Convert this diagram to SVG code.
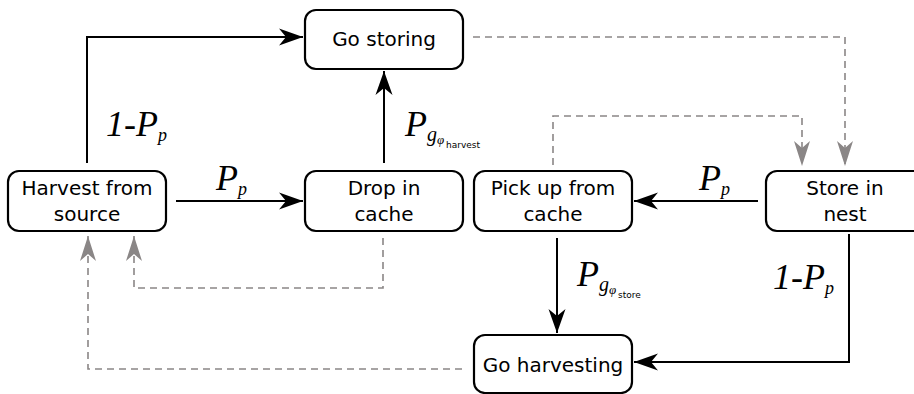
<svg xmlns="http://www.w3.org/2000/svg" width="914" height="394" viewBox="0 0 914 394">
<defs>
<style>
.box{fill:#fff;stroke:#000;stroke-width:2.2}
.lbl{font-family:"DejaVu Sans",sans-serif;font-size:20px;fill:#000;text-anchor:middle}
.solid{fill:none;stroke:#000;stroke-width:2}
.dash{fill:none;stroke:#8a8686;stroke-width:1.6;stroke-dasharray:7,5}
.m{font-family:"Liberation Serif",serif;font-style:italic;fill:#000}
.sub{font-family:"DejaVu Sans",sans-serif;font-size:9px;fill:#000}
</style>
<marker id="ab" markerUnits="userSpaceOnUse" markerWidth="30" markerHeight="20" refX="0" refY="0" viewBox="-26 -10 30 20" orient="auto" overflow="visible">
<path d="M0,0 L-24,-8.5 L-17,0 L-24,8.5 Z" fill="#000"/>
</marker>
<marker id="ag" markerUnits="userSpaceOnUse" markerWidth="30" markerHeight="20" refX="0" refY="0" viewBox="-26 -10 30 20" orient="auto" overflow="visible">
<path d="M0,0 L-25,-8 L-18,0 L-25,8 Z" fill="#8a8686"/>
</marker>
</defs>
<rect width="914" height="394" fill="#fff"/>
<g id="connectors">
<path class="solid" d="M87,163 V37 H303" marker-end="url(#ab)"/>
<path class="solid" d="M176,201 H303" marker-end="url(#ab)"/>
<path class="solid" d="M384,163 V71" marker-end="url(#ab)"/>
<path class="solid" d="M758,201 H634" marker-end="url(#ab)"/>
<path class="solid" d="M557,238 V333" marker-end="url(#ab)"/>
<path class="solid" d="M849,234 V362 H634" marker-end="url(#ab)"/>
<path class="dash" d="M473,37 H845 V166" marker-end="url(#ag)"/>
<path class="dash" d="M553,165 V116 H802 V166" marker-end="url(#ag)"/>
<path class="dash" d="M383,238 V288 H134 V236" marker-end="url(#ag)"/>
<path class="dash" d="M462,369 H88 V236" marker-end="url(#ag)"/>
</g>
<g id="go-storing"><rect class="box" x="305" y="10" width="158" height="59" rx="11"/><text class="lbl" x="384" y="46">Go storing</text></g>
<g id="harvest"><rect class="box" x="8" y="171" width="158" height="60" rx="11"/><text class="lbl" x="87" y="195">Harvest from</text><text class="lbl" x="87" y="221">source</text></g>
<g id="drop"><rect class="box" x="305" y="171" width="158" height="60" rx="11"/><text class="lbl" x="384" y="195">Drop in</text><text class="lbl" x="384" y="221">cache</text></g>
<g id="pickup"><rect class="box" x="474" y="171" width="158" height="60" rx="11"/><text class="lbl" x="553" y="195">Pick up from</text><text class="lbl" x="553" y="221">cache</text></g>
<g id="store"><rect class="box" x="766" y="171" width="160" height="60" rx="11"/><text class="lbl" x="845" y="195">Store in</text><text class="lbl" x="845" y="221">nest</text></g>
<g id="go-harvesting"><rect class="box" x="474" y="335" width="158" height="58" rx="11"/><text class="lbl" x="553" y="372">Go harvesting</text></g>
<g id="labels">
<text class="m" x="106" y="136" font-size="36">1-P<tspan font-size="18" dy="5">p</tspan></text>
<text class="m" x="216" y="190" font-size="36">P<tspan font-size="18" dy="5">p</tspan></text>
<text class="m" x="699" y="190" font-size="36">P<tspan font-size="18" dy="5">p</tspan></text>
<text class="m" x="773" y="289" font-size="36">1-P<tspan font-size="18" dy="5">p</tspan></text>
<text class="m" x="405" y="136" font-size="36">P<tspan font-size="20" dy="5">g</tspan><tspan font-size="13" dy="3">φ</tspan></text>
<text class="sub" x="446" y="148">harvest</text>
<text class="m" x="577" y="286" font-size="36">P<tspan font-size="20" dy="5">g</tspan><tspan font-size="13" dy="3">φ</tspan></text>
<text class="sub" x="618" y="298">store</text>
</g>
</svg>
